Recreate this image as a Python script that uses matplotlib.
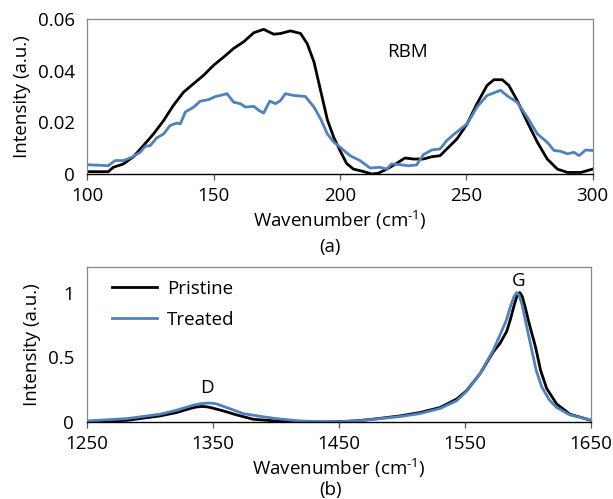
import matplotlib
matplotlib.use("Agg")
import matplotlib.pyplot as plt

plt.rcParams['font.family'] = ['Open Sans', 'DejaVu Sans']
plt.rcParams['mathtext.fontset'] = 'custom'
plt.rcParams['mathtext.rm'] = 'Open Sans'
plt.rcParams['mathtext.default'] = 'regular'

# ---------------- data: RBM region ----------------
rbm_pristine_x = [100, 108.3, 110.3, 114.3, 118.3, 122.2, 126.2, 130.2, 134.1, 138.1, 142.1,
                  146.0, 150, 154, 157.9, 161.9, 165.9, 169.8, 173.8, 176.5, 180.4, 184.4,
                  187, 189.7, 192.3, 195, 197.6, 200, 202.6, 205.3, 209.2, 212.5, 215.2,
                  218.5, 222.4, 225.7, 229, 233, 236.4, 239.6, 243, 246.3, 250.3, 254.2,
                  258.2, 260.9, 264.2, 266.8, 270.1, 274.1, 278.1, 282, 286, 290, 295.3, 300]
rbm_pristine_y = [0.0009, 0.0009, 0.0026, 0.0039, 0.0067, 0.0110, 0.0155, 0.0207, 0.0266, 0.0317, 0.0350,
                  0.0382, 0.0421, 0.0453, 0.0486, 0.0512, 0.0547, 0.0560, 0.0541, 0.0544, 0.0554, 0.0544,
                  0.0505, 0.0434, 0.0324, 0.0210, 0.0140, 0.0091, 0.0041, 0.0019, 0.0010, 0.0000, 0.0003,
                  0.0019, 0.0041, 0.0062, 0.0058, 0.0058, 0.0067, 0.0071, 0.0104, 0.0136, 0.0194, 0.0272,
                  0.0343, 0.0365, 0.0365, 0.0343, 0.0285, 0.0201, 0.0123, 0.0058, 0.0019, 0.0006, 0.0006, 0.0019]

rbm_treated_x = [100, 108.3, 111, 114.3, 117.6, 120.9, 122.9, 124.9, 127.5, 130.2, 132.8, 135.4,
                 136.8, 138.8, 142.1, 144.7, 148, 150.7, 152.6, 155.3, 157.9, 160.6, 162.6, 165.9,
                 167.9, 169.8, 172.2, 174.5, 176.5, 178.4, 181.7, 186.3, 189.7, 192.3, 195, 197.6,
                 200, 204, 207.9, 211.9, 215.8, 218.5, 220.4, 223.7, 227, 230.3, 233, 236.3, 239.6,
                 242.3, 245.6, 250.3, 254.2, 258.2, 263.5, 266.8, 270.1, 274.1, 278.1, 282, 284.7,
                 287.3, 290, 292.6, 294.6, 297.2, 300]
rbm_treated_y = [0.0036, 0.0032, 0.0052, 0.0052, 0.0065, 0.0084, 0.0107, 0.0110, 0.0140, 0.0155, 0.0188, 0.0197,
                 0.0194, 0.0240, 0.0259, 0.0282, 0.0288, 0.0300, 0.0304, 0.0311, 0.0278, 0.0272, 0.0259, 0.0262,
                 0.0246, 0.0236, 0.0282, 0.0272, 0.0285, 0.0311, 0.0304, 0.0300, 0.0259, 0.0214, 0.0155, 0.0123,
                 0.0104, 0.0071, 0.0052, 0.0023, 0.0026, 0.0019, 0.0039, 0.0036, 0.0032, 0.0035, 0.0075, 0.0093, 0.0097,
                 0.0130, 0.0158, 0.0194, 0.0259, 0.0304, 0.0324, 0.0298, 0.0278, 0.0220, 0.0155, 0.0123, 0.0091,
                 0.0088, 0.0078, 0.0084, 0.0071, 0.0093, 0.0091]

# ---------------- data: D and G region ----------------
dg_pristine_x = [1250, 1281.7, 1308.1, 1321.3, 1331.9, 1337, 1341.2, 1345, 1349, 1358.3, 1368.9, 1382.1,
                 1400.6, 1435, 1450, 1465, 1480, 1498.4, 1514.3, 1530.2, 1543.4, 1551.3, 1561.9,
                 1572.5, 1577.8, 1583.1, 1586, 1589, 1591.5, 1593.5, 1595.5, 1598, 1601, 1606,
                 1610, 1614.8, 1622.7, 1633.3, 1650]
dg_pristine_y = [0.003, 0.013, 0.047, 0.073, 0.104, 0.116, 0.120, 0.118, 0.110, 0.086, 0.055, 0.021,
                 0.008, 0.000, 0.002, 0.010, 0.025, 0.047, 0.073, 0.112, 0.177, 0.242, 0.372,
                 0.542, 0.607, 0.700, 0.790, 0.900, 0.980, 1.000, 0.970, 0.880, 0.760, 0.580,
                 0.400, 0.260, 0.140, 0.060, 0.013]

dg_treated_x = [1250, 1281.7, 1308.1, 1321.3, 1334.5, 1340, 1345.1, 1349, 1353, 1361, 1374.2, 1387.4,
                1400.6, 1419.1, 1435, 1450, 1465, 1480, 1498.4, 1514.3, 1530.2, 1543.4, 1551.3,
                1561.9, 1572.5, 1577.8, 1583, 1586, 1589, 1591, 1593, 1595.5, 1598.5, 1602.5,
                1606.5, 1611, 1617, 1622.7, 1633.3, 1650]
dg_treated_y = [0.008, 0.026, 0.060, 0.091, 0.130, 0.141, 0.146, 0.146, 0.140, 0.112, 0.065, 0.044,
                0.026, 0.008, 0.003, 0.002, 0.009, 0.023, 0.042, 0.065, 0.104, 0.164, 0.237,
                0.372, 0.555, 0.672, 0.790, 0.890, 0.970, 1.000, 0.980, 0.900, 0.760, 0.580,
                0.400, 0.270, 0.170, 0.112, 0.055, 0.016]

series_names = ['Pristine', 'Treated']
rbm_xticks = [100, 150, 200, 250, 300]
rbm_yticks = [0, 0.02, 0.04, 0.06]
rbm_yticklabels = ['0', '0.02', '0.04', '0.06']
dg_xticks = [1250, 1350, 1450, 1550, 1650]
dg_yticks = [0, 0.5, 1]
dg_yticklabels = ['0', '0.5', '1']

BLACK = '#000000'
BLUE = '#4F81BD'
FRAME = '#878787'
FS = 13.5
XLABEL = 'Wavenumber (cm$^{\u2010 1}$)'

fig = plt.figure(figsize=(6.13, 4.99), dpi=100)
ax1 = fig.add_axes([0.1424, 0.6513, 0.8245, 0.3106])
ax2 = fig.add_axes([0.1414, 0.1543, 0.8227, 0.3112])


def style(ax):
    for s in ['top', 'left', 'right']:
        ax.spines[s].set_color(FRAME)
        ax.spines[s].set_linewidth(0.9)
    ax.spines['bottom'].set_color('#000000')
    ax.spines['bottom'].set_linewidth(1.0)
    ax.tick_params(axis='x', direction='out', length=4, width=0.9, color='#555555',
                   labelsize=FS, pad=5)
    ax.tick_params(axis='y', length=0, labelsize=FS, pad=9)


ax1.plot(rbm_pristine_x, rbm_pristine_y, color=BLACK, lw=2.0, solid_joinstyle='round')
ax1.plot(rbm_treated_x, rbm_treated_y, color=BLUE, lw=2.0, solid_joinstyle='round')
ax1.set_xlim(100, 300)
ax1.set_ylim(0, 0.06)
ax1.set_xticks(rbm_xticks)
ax1.set_yticks(rbm_yticks)
ax1.set_yticklabels(rbm_yticklabels)
style(ax1)
ax1.set_xlabel(XLABEL, fontsize=FS, labelpad=3)
ax1.set_ylabel('Intensity (a.u.)', fontsize=FS, labelpad=5)
ax1.text(226.9, 0.0473, 'RBM', fontsize=FS, ha='center', va='center')
fig.text(0.5385, 1 - 246.7 / 499, '(a)', fontsize=FS, ha='center', va='center')

l1, = ax2.plot(dg_pristine_x, dg_pristine_y, color=BLACK, lw=2.0, solid_joinstyle='round')
l2, = ax2.plot(dg_treated_x, dg_treated_y, color=BLUE, lw=2.0, solid_joinstyle='round')
ax2.set_xlim(1250, 1650)
ax2.set_ylim(0, 1.2)
ax2.set_xticks(dg_xticks)
ax2.set_yticks(dg_yticks)
ax2.set_yticklabels(dg_yticklabels)
style(ax2)
ax2.set_xlabel(XLABEL, fontsize=FS, labelpad=3)
ax2.set_ylabel('Intensity (a.u.)', fontsize=FS, labelpad=5)
ax2.text(1345.6, 0.263, 'D', fontsize=FS, ha='center', va='center')
ax2.text(1593, 1.089, 'G', fontsize=FS, ha='center', va='center')
ax2.legend([l1, l2], series_names, loc='upper left', frameon=False, fontsize=FS,
           handlelength=2.4, handletextpad=0.5, labelspacing=0.7,
           bbox_to_anchor=(0.025, 1.0), borderaxespad=0.3)
fig.text(0.5385, 1 - 490.0 / 499, '(b)', fontsize=FS, ha='center', va='center')

fig.savefig('out.png', dpi=100)
